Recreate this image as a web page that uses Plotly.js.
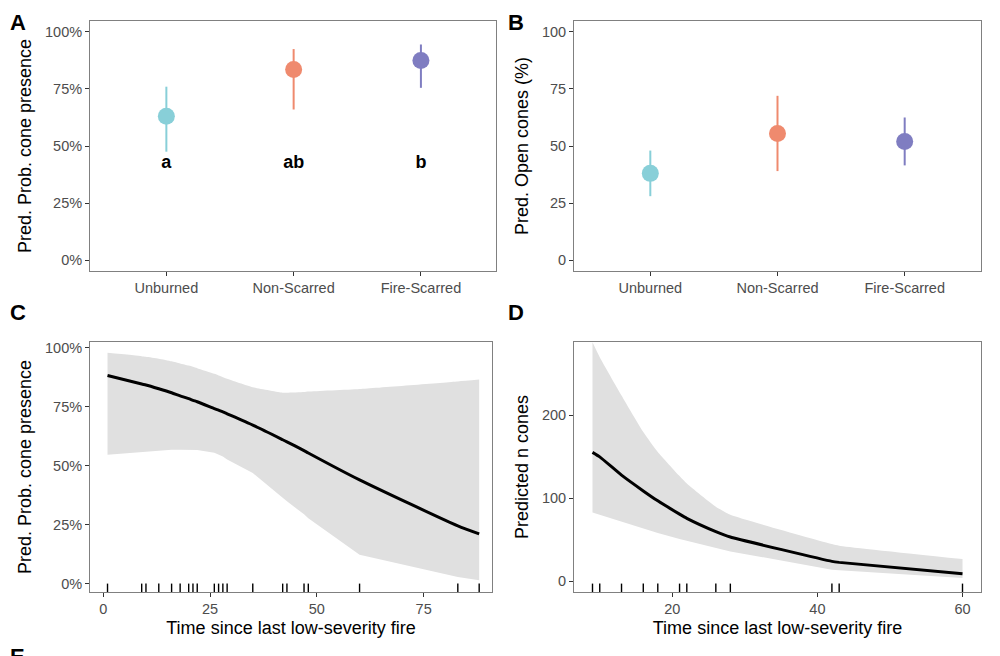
<!DOCTYPE html>
<html>
<head>
<meta charset="utf-8">
<script src="https://cdn.plot.ly/plotly-3.0.1.min.js"></script>
<style>html,body{margin:0;padding:0;background:#fff}#chart{width:1000px;height:656px}</style>
</head>
<body>
<div id="chart"></div>
<script>
// ---- Data ----
const categories = ["Unburned", "Non-Scarred", "Fire-Scarred"];
const groupColors = ["#88cfd8", "#ef8a6e", "#7f7dc1"];

// Panel A: predicted probability of cone presence (%)
const probFit = [63, 83.5, 87.5];
const probLow = [47.5, 66, 75.5];
const probHigh = [76, 92.5, 94.5];
const sigLetters = ["a", "ab", "b"];
const sigLetterY = [42.5, 42.5, 42.5];
const pctTickVals = [0, 25, 50, 75, 100];
const pctTickText = ["0%", "25%", "50%", "75%", "100%"];

// Panel B: predicted open cones (%)
const openFit = [38, 55.5, 52];
const openLow = [28, 39, 41.5];
const openHigh = [48, 72, 62.5];
const openTickVals = [0, 25, 50, 75, 100];

// Panel C: probability vs time since fire
const cTime = [1, 9, 10, 13, 16, 18, 20, 21, 22, 26, 27, 28, 29, 35, 42, 43, 47, 48, 60, 83, 88];
const cFit  = [88.3, 84.7, 84.3, 82.7, 81.0, 79.7, 78.5, 77.8, 77.2, 74.3, 73.6, 72.9, 72.1, 67.3, 61.1, 60.2, 56.5, 55.5, 44.1, 24.6, 21.2];
const cHigh = [97.9, 96.5, 96.2, 95.4, 94.3, 93.4, 92.5, 92.0, 91.4, 89.0, 88.3, 87.6, 86.9, 83.3, 81.0, 81.0, 81.3, 81.5, 82.6, 85.8, 86.6];
const cLow  = [54.7, 56.0, 56.2, 56.6, 56.9, 56.9, 56.9, 56.8, 56.7, 55.6, 54.9, 54.0, 52.7, 47.0, 36.5, 35.0, 29.5, 27.8, 12.4, 3.0, 1.6];
const cTickVals = [0, 25, 50, 75];

// Panel D: predicted number of cones vs time since fire
const dTime = [9, 10, 13, 16, 18, 21, 22, 26, 28, 42, 43, 60];
const dFit  = [155.4, 150, 128, 109, 97, 81, 76, 60, 53.4, 24.1, 22.9, 9.2];
const dHigh = [288, 270, 224, 180, 156, 127, 118, 90, 80.3, 45, 43, 26.9];
const dLow  = [83.1, 80.3, 72.3, 63, 58.2, 51, 49, 40.2, 36.1, 14.1, 13.3, 4];
const dTickValsX = [20, 40, 60];
const dTickValsY = [0, 100, 200];

const panelLetters = ["A", "B", "C", "D", "E"];

// ---- Helpers ----
const FONT = "Liberation Sans, Arial, sans-serif";

const traces = [];
// Panel A points with error bars
categories.forEach((c, i) => {
  traces.push({
    type: "scatter", mode: "markers", xaxis: "x", yaxis: "y",
    x: [c], y: [probFit[i]],
    marker: { color: groupColors[i], size: 17 },
    error_y: { type: "data", symmetric: false, array: [probHigh[i] - probFit[i]], arrayminus: [probFit[i] - probLow[i]], color: groupColors[i], thickness: 2, width: 0 },
    showlegend: false, hoverinfo: "skip"
  });
});
traces.push({
  type: "scatter", mode: "text", xaxis: "x", yaxis: "y",
  x: categories, y: sigLetterY, text: sigLetters.map(s => "<b>" + s + "</b>"),
  textfont: { family: FONT, size: 18, color: "#000" }, showlegend: false, hoverinfo: "skip"
});
// Panel B
categories.forEach((c, i) => {
  traces.push({
    type: "scatter", mode: "markers", xaxis: "x2", yaxis: "y2",
    x: [c], y: [openFit[i]],
    marker: { color: groupColors[i], size: 17 },
    error_y: { type: "data", symmetric: false, array: [openHigh[i] - openFit[i]], arrayminus: [openFit[i] - openLow[i]], color: groupColors[i], thickness: 2, width: 0 },
    showlegend: false, hoverinfo: "skip"
  });
});
// Panel C ribbon + line + rug
traces.push({ type: "scatter", mode: "lines", xaxis: "x3", yaxis: "y3", x: cTime, y: cLow, line: { width: 0 }, showlegend: false, hoverinfo: "skip" });
traces.push({ type: "scatter", mode: "lines", xaxis: "x3", yaxis: "y3", x: cTime, y: cHigh, line: { width: 0, shape: "spline", smoothing: 0.5 }, fill: "tonexty", fillcolor: "#e0e0e0", showlegend: false, hoverinfo: "skip" });
traces.push({ type: "scatter", mode: "lines", xaxis: "x3", yaxis: "y3", x: cTime, y: cFit, line: { color: "#000", width: 3, shape: "spline", smoothing: 0.6 }, showlegend: false, hoverinfo: "skip" });
traces.push({ type: "scatter", mode: "markers", xaxis: "x3", yaxis: "y5", x: cTime, y: cTime.map(() => 0),
  marker: { symbol: "line-ns-open", size: 12, color: "#000", line: { color: "#000", width: 1.4 } }, showlegend: false, hoverinfo: "skip" });
// Panel D
traces.push({ type: "scatter", mode: "lines", xaxis: "x4", yaxis: "y4", x: dTime, y: dLow, line: { width: 0 }, showlegend: false, hoverinfo: "skip" });
traces.push({ type: "scatter", mode: "lines", xaxis: "x4", yaxis: "y4", x: dTime, y: dHigh, line: { width: 0, shape: "spline", smoothing: 0.5 }, fill: "tonexty", fillcolor: "#e0e0e0", showlegend: false, hoverinfo: "skip" });
traces.push({ type: "scatter", mode: "lines", xaxis: "x4", yaxis: "y4", x: dTime, y: dFit, line: { color: "#000", width: 3, shape: "spline", smoothing: 0.4 }, showlegend: false, hoverinfo: "skip" });
traces.push({ type: "scatter", mode: "markers", xaxis: "x4", yaxis: "y6", x: dTime, y: dTime.map(() => 0),
  marker: { symbol: "line-ns-open", size: 12, color: "#000", line: { color: "#000", width: 1.4 } }, showlegend: false, hoverinfo: "skip" });

const W = 1000, H = 656;
const dom = (a, b) => [a / W, b / W];
const vdom = (top, bot) => [1 - bot / H, 1 - top / H];

const tickFont = { family: FONT, size: 14.5, color: "#4d4d4d" };
const titleFont = { family: FONT, size: 18, color: "#000" };
function axisBase(extra) {
  return Object.assign({
    showline: true, mirror: true, linecolor: "#808080", linewidth: 1,
    ticks: "outside", ticklen: 4, tickcolor: "#333", tickwidth: 1,
    showgrid: false, zeroline: false, tickfont: tickFont, fixedrange: true
  }, extra);
}

const layout = {
  width: W, height: H, margin: { l: 0, r: 0, t: 0, b: 0 },
  paper_bgcolor: "#fff", plot_bgcolor: "#fff", showlegend: false,
  font: { family: FONT },
  xaxis: axisBase({ domain: dom(90, 496), anchor: "y", type: "category", categoryorder: "array", categoryarray: categories, range: [-0.6, 2.59] }),
  yaxis: axisBase({ domain: vdom(21, 271), anchor: "x", range: [-4.8, 104.8], tickmode: "array", tickvals: pctTickVals, ticktext: pctTickText,
    title: { text: "Pred. Prob. cone presence", font: titleFont, standoff: 8 } }),
  xaxis2: axisBase({ domain: dom(574, 981), anchor: "y2", type: "category", categoryorder: "array", categoryarray: categories, range: [-0.6, 2.6] }),
  yaxis2: axisBase({ domain: vdom(21, 271), anchor: "x2", range: [-4.8, 104.8], tickmode: "array", tickvals: openTickVals,
    title: { text: "Pred. Open cones (%)", font: titleFont, standoff: 8 } }),
  xaxis3: axisBase({ domain: dom(90, 492), anchor: "y3", range: [-3.1, 91.0], tickmode: "array", tickvals: cTickVals,
    title: { text: "Time since last low-severity fire", font: titleFont, standoff: 4 } }),
  yaxis3: axisBase({ domain: vdom(342, 592), anchor: "x3", range: [-3.4, 102.5], tickmode: "array", tickvals: pctTickVals, ticktext: pctTickText,
    title: { text: "Pred. Prob. cone presence", font: titleFont, standoff: 8 } }),
  xaxis4: axisBase({ domain: dom(574, 981), anchor: "y4", range: [6.45, 62.55], tickmode: "array", tickvals: dTickValsX,
    title: { text: "Time since last low-severity fire", font: titleFont, standoff: 4 } }),
  yaxis4: axisBase({ domain: vdom(342, 592), anchor: "x4", range: [-12.8, 288.4], tickmode: "array", tickvals: dTickValsY,
    title: { text: "Predicted n cones", font: titleFont, standoff: 8 } }),
  yaxis5: { domain: vdom(342, 592), anchor: "x3", overlaying: "y3", range: [0, 1], visible: false, fixedrange: true },
  yaxis6: { domain: vdom(342, 592), anchor: "x4", overlaying: "y4", range: [0, 1], visible: false, fixedrange: true },
  annotations: [
    [17.5, 22.5], [516, 22.5], [17.5, 312], [516, 312], [17.5, 656]
  ].map((p, i) => ({
    text: "<b>" + panelLetters[i] + "</b>", xref: "paper", yref: "paper",
    x: p[0] / W, y: 1 - p[1] / H, xanchor: "center", yanchor: "middle", showarrow: false,
    font: { family: FONT, size: 22, color: "#000" }
  }))
};

Plotly.newPlot("chart", traces, layout, { staticPlot: true, displayModeBar: false });
</script>
</body>
</html>
